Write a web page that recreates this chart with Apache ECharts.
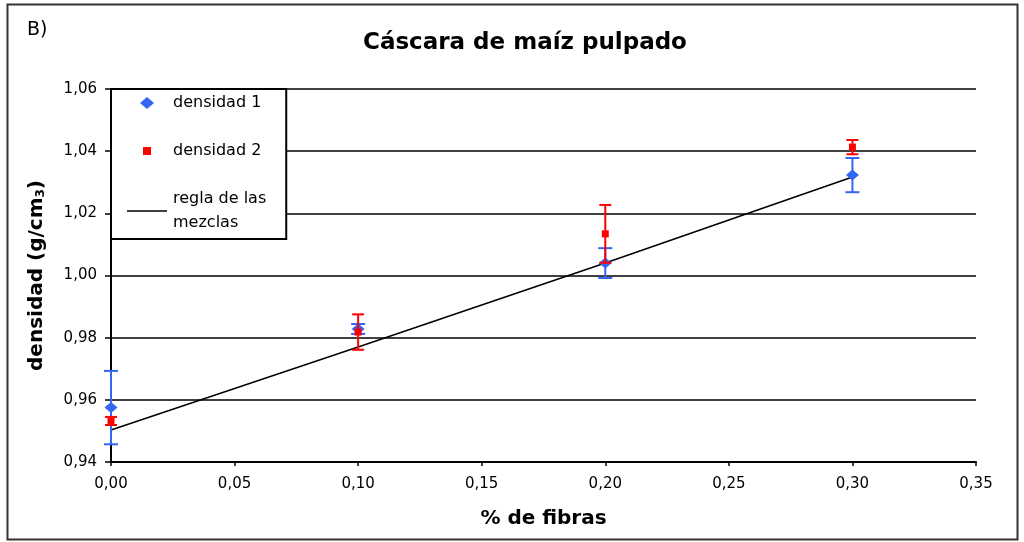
<!DOCTYPE html>
<html>
<head>
<meta charset="utf-8">
<script src="https://cdn.jsdelivr.net/npm/echarts@6/dist/echarts.min.js"></script>
<style>
html,body{margin:0;padding:0;background:#fff;}
#chart{width:1024px;height:542px;}
</style>
</head>
<body>
<div id="chart"></div>
<script>
var fibras = [0, 0.1, 0.2, 0.3];
var dens1 = [0.9575, 0.9828, 1.0040, 1.0323];
var err1 = [0.0118, 0.0016, 0.0048, 0.0055];
var dens2 = [0.9532, 0.9818, 1.0134, 1.0413];
var err2 = [0.0013, 0.0057, 0.0093, 0.0023];
var regla = [0.9503, 0.9770, 1.0040, 1.0317];
var xTicks = [0, 0.05, 0.10, 0.15, 0.20, 0.25, 0.30, 0.35];
var yTicks = [0.94, 0.96, 0.98, 1.00, 1.02, 1.04, 1.06];

var BLUE = '#3366f5';
var RED = '#ff0000';
var FONT = 'DejaVu Sans';

function pts(vals) { return fibras.map(function (x, i) { return [x, vals[i]]; }); }
function errs(vals, e) { return fibras.map(function (x, i) { return [x, vals[i] - e[i], vals[i] + e[i]]; }); }
function comma(v) { return v.toFixed(2).replace('.', ','); }

function errRender(color, cap) {
  return function (params, api) {
    var x = api.value(0), lo = api.value(1), hi = api.value(2);
    var p1 = api.coord([x, hi]), p2 = api.coord([x, lo]);
    var st = { stroke: color, lineWidth: 2 };
    return {
      type: 'group',
      children: [
        { type: 'line', shape: { x1: p1[0], y1: p1[1], x2: p2[0], y2: p2[1] }, style: st },
        { type: 'line', shape: { x1: p1[0] - cap, y1: p1[1], x2: p1[0] + cap, y2: p1[1] }, style: st },
        { type: 'line', shape: { x1: p2[0] - cap, y1: p2[1], x2: p2[0] + cap, y2: p2[1] }, style: st }
      ]
    };
  };
}

var chart = echarts.init(document.getElementById('chart'), null, { renderer: 'canvas' });
chart.setOption({
  animation: false,
  backgroundColor: '#fff',
  title: {
    text: 'Cáscara de maíz pulpado',
    left: 358, top: 27,
    textStyle: { fontFamily: FONT, fontSize: 23, fontWeight: 'bold', color: '#000' }
  },
  graphic: [
    { type: 'rect', shape: { x: 7.5, y: 4.5, width: 1010, height: 535 }, style: { fill: 'none', stroke: '#333', lineWidth: 2 }, z: 100 },
    { type: 'text', left: 27, top: 21, style: { text: 'B)', font: '19px "DejaVu Sans"', fill: '#000' } }
  ],
  legend: {
    orient: 'vertical',
    left: 111, top: 89,
    data: [
      { name: 'densidad 1', icon: 'path://M7,0L14,6L7,12L0,6Z' },
      { name: 'densidad 2', icon: 'path://M0,0M12,12M2,2L10,2L10,10L2,10Z' },
      { name: 'regla de las\nmezclas', icon: 'path://M0,0M0,12M0,5.2L40,5.2L40,6.8L0,6.8Z' }
    ],
    itemWidth: 42, itemHeight: 12, itemGap: 24,
    padding: [2, 20, 4, 16],
    backgroundColor: '#fff',
    borderColor: '#000', borderWidth: 2,
    textStyle: { fontFamily: FONT, fontSize: 16, color: '#000', lineHeight: 24 },
    z: 10
  },
  grid: { left: 111, right: 48, top: 89, bottom: 80 },
  xAxis: {
    type: 'value', min: 0, max: 0.35, interval: 0.05,
    name: '% de fibras', nameLocation: 'middle', nameGap: 47,
    nameTextStyle: { fontFamily: FONT, fontSize: 20, fontWeight: 'bold', color: '#000' },
    axisLine: { lineStyle: { color: '#000', width: 2 } },
    axisTick: { length: 4, lineStyle: { color: '#000', width: 1.5 } },
    axisLabel: { margin: 15, fontFamily: FONT, fontSize: 15, color: '#000', formatter: function (v) { return comma(v); } },
    splitLine: { show: false }
  },
  yAxis: {
    type: 'value', min: 0.94, max: 1.06, interval: 0.02,
    name: 'densidad (g/cm{s|3})', nameLocation: 'middle', nameGap: 64,
    nameTextStyle: { fontFamily: FONT, fontSize: 20, fontWeight: 'bold', color: '#000',
      rich: { s: { fontFamily: FONT, fontSize: 12, fontWeight: 'bold', color: '#000', verticalAlign: 'bottom' } } },
    axisLine: { show: true, lineStyle: { color: '#000', width: 2 } },
    axisTick: { show: true, length: 6, lineStyle: { color: '#000', width: 1.5 } },
    axisLabel: { margin: 14, fontFamily: FONT, fontSize: 15, color: '#000', formatter: function (v) { return comma(v); } },
    splitLine: { show: true, lineStyle: { color: '#000', width: 1.5 } }
  },
  series: [
    {
      name: 'regla de las\nmezclas', type: 'line', data: pts(regla),
      symbol: 'none', showSymbol: false,
      lineStyle: { color: '#000', width: 1.5 }, itemStyle: { color: '#000' }, z: 2
    },
    {
      name: 'err1', type: 'custom', data: errs(dens1, err1),
      renderItem: errRender(BLUE, 7), z: 3, silent: true
    },
    {
      name: 'densidad 1', type: 'scatter', data: pts(dens1),
      symbol: 'diamond', symbolSize: [13, 11], itemStyle: { color: BLUE, opacity: 1 }, z: 4
    },
    {
      name: 'err2', type: 'custom', data: errs(dens2, err2),
      renderItem: errRender(RED, 6), z: 5, silent: true
    },
    {
      name: 'densidad 2', type: 'scatter', data: pts(dens2),
      symbol: 'rect', symbolSize: 7, itemStyle: { color: RED, opacity: 1 }, z: 6
    }
  ]
});
</script>
</body>
</html>
